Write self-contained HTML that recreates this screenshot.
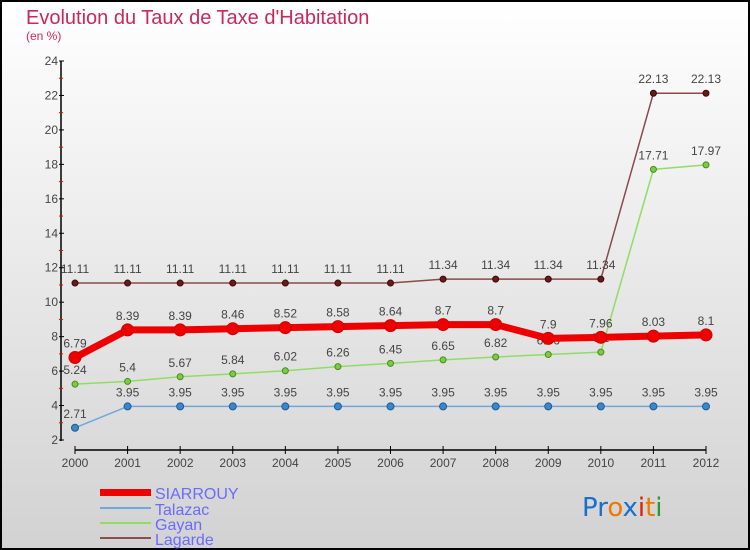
<!DOCTYPE html>
<html><head><meta charset="utf-8"><style>
body{margin:0}
#c{width:750px;height:550px;position:relative;font-family:"Liberation Sans",sans-serif;overflow:hidden}
</style></head><body>
<div id="c">
<svg id="s" width="750" height="550" xmlns="http://www.w3.org/2000/svg">
<defs><linearGradient id="bg" x1="0" y1="0" x2="0" y2="1"><stop offset="0" stop-color="#ffffff"/><stop offset="1" stop-color="#d2d2d2"/></linearGradient></defs>
<rect x="1" y="1" width="748" height="548" fill="url(#bg)" stroke="#000" stroke-width="2"/>
<text x="26" y="24" font-size="20" fill="#c8285a">Evolution du Taux de Taxe d'Habitation</text>
<text x="26" y="40" font-size="12" fill="#c8285a">(en %)</text>
<g id="axes"></g><g id="series"></g>
<g>
<rect x="100" y="489" width="51" height="7" fill="#e00"/>
<text x="155" y="499" font-size="16" fill="#6a6aff">SIARROUY</text>
<rect x="100" y="507" width="51" height="2" fill="#6fa8dc"/>
<text x="155" y="515" font-size="16" fill="#6a6aff">Talazac</text>
<rect x="100" y="522" width="51" height="2" fill="#90dd66"/>
<text x="155" y="530" font-size="16" fill="#6a6aff">Gayan</text>
<rect x="100" y="537" width="51" height="2" fill="#8a5050"/>
<text x="155" y="545" font-size="16" fill="#6a6aff">Lagarde</text>
</g>
<g font-size="26" font-family="'DejaVu Sans',sans-serif">
<text x="582" y="516"><tspan fill="#1a6fcc">Pr</tspan><tspan fill="#f07800">o</tspan><tspan fill="#1a6fcc">x</tspan><tspan fill="#e02000">i</tspan><tspan fill="#f07800">t</tspan><tspan fill="#2a9a30">i</tspan></text>
</g>
</svg>
</div>
<script>
const years=[2000,2001,2002,2003,2004,2005,2006,2007,2008,2009,2010,2011,2012];
const siarrouy=[6.79,8.39,8.39,8.46,8.52,8.58,8.64,8.7,8.7,7.9,7.96,8.03,8.1];
const talazac=[2.71,3.95,3.95,3.95,3.95,3.95,3.95,3.95,3.95,3.95,3.95,3.95,3.95];
const gayan=[5.24,5.4,5.67,5.84,6.02,6.26,6.45,6.65,6.82,6.96,7.1,17.71,17.97];
const lagarde=[11.11,11.11,11.11,11.11,11.11,11.11,11.11,11.34,11.34,11.34,11.34,22.13,22.13];
const yTicks=[2,4,6,8,10,12,14,16,18,20,22,24];
const NS="http://www.w3.org/2000/svg";
function xS(i){return 75+i*(706-75)/(years.length-1);}
function yS(v){return 440-(v-2)*(440-61)/22;}
function mk(t,a,p){const e=document.createElementNS(NS,t);for(const k in a)e.setAttribute(k,a[k]);p.appendChild(e);return e;}
const ax=document.getElementById('axes');
let yl=mk('line',{x1:61,y1:61,x2:61,y2:441,stroke:'#000','stroke-width':1.5},ax);


let xl=mk('line',{x1:75,y1:450,x2:706,y2:450,stroke:'#000','stroke-width':1.5},ax);


yTicks.forEach(v=>{
 mk('line',{x1:59,y1:yS(v),x2:64,y2:yS(v),stroke:'#000'},ax);
 if(v<24)mk('line',{x1:59,y1:yS(v+1),x2:63,y2:yS(v+1),stroke:'#f00'},ax);
 const t=mk('text',{x:58,y:yS(v)+4,'font-size':12,'text-anchor':'end',fill:'#444'},ax);t.textContent=v;
 
 
});
years.forEach((y,i)=>{
 mk('line',{x1:xS(i),y1:446,x2:xS(i),y2:454,stroke:'#000'},ax);
 const t=mk('text',{x:xS(i),y:467,'font-size':12,'text-anchor':'middle',fill:'#444'},ax);t.textContent=y;
 
 
});
const sg=document.getElementById('series');
function draw(vals,name,color,w,r,dot,dotStroke){
 const g=mk('g',{},sg);
 
 
 mk('polyline',{points:vals.map((v,i)=>xS(i)+','+yS(v)).join(' '),fill:'none',stroke:color,'stroke-width':w,'stroke-linejoin':'round'},g);
 vals.forEach((v,i)=>{
  const c=mk('circle',{cx:xS(i),cy:yS(v),r:r,fill:dot,stroke:dotStroke,'stroke-width':1},g);
  
  
  const t=mk('text',{x:xS(i),y:yS(v)-10,'font-size':12,'text-anchor':'middle',fill:'#444'},g);t.textContent=v;
  
  
 });
}
draw(lagarde,'lagarde','#8a4a4a',1.5,3,'#6a1a1a','#3a0a0a');
draw(gayan,'gayan','#90dd66',1.5,3,'#7acc40','#4a8a20');
draw(talazac,'talazac','#6fa8dc',1.5,3.5,'#3a88c8','#1a5a9a');
draw(siarrouy,'siarrouy','#ee0000',7,6,'#ee0000','#cc0000');
</script>
</body></html>
